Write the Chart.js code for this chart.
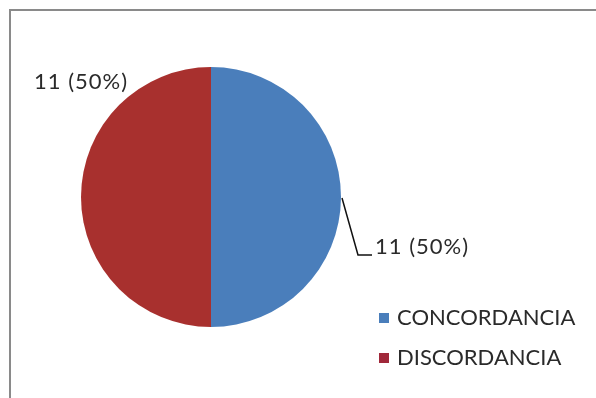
<!DOCTYPE html>
<html>
<head>
<meta charset="utf-8">
<script src="https://cdn.jsdelivr.net/npm/chart.js@4"></script>
<style>
  html, body { margin: 0; padding: 0; background: #fff; }
  #wrap { position: relative; width: 596px; height: 398px; overflow: hidden; }
  #frame { position: absolute; left: 9px; top: 9px; width: 700px; height: 500px;
           border-top: 2px solid #8a8a8a; border-left: 2px solid #8a8a8a; }
  canvas { position: absolute; left: 0; top: 0; }
</style>
</head>
<body>
<div id="wrap">
  <div id="frame"></div>
  <canvas id="chart" width="596" height="398"></canvas>
</div>
<script>
// Categories and counts
const categories = ['CONCORDANCIA', 'DISCORDANCIA'];
const counts = [11, 11];
const sliceColors = ['#4A7EBB', '#A8302E'];
const legendColors = ['#4A7EBB', '#A0283A'];

const FONT = '22px Lato, "Open Sans", sans-serif';

function labelText(i) {
    const total = counts.reduce((a, b) => a + b, 0);
    return counts[i] + ' (' + Math.round(counts[i] / total * 100) + '%)';
}

// Value labels: right one with a leader line, left one above the slice
const sliceLabels = {
    id: 'sliceLabels',
    afterDatasetsDraw(chart) {
        const ctx = chart.ctx;
        const arcs = chart.getDatasetMeta(0).data;
        ctx.save();
        ctx.font = FONT;
        ctx.letterSpacing = '1px';
        ctx.fillStyle = '#2a2a2a';
        ctx.textBaseline = 'middle';

        // first slice (right half)
        const a0 = arcs[0];
        const mid0 = (a0.startAngle + a0.endAngle) / 2;
        const px = a0.x + Math.cos(mid0) * a0.outerRadius;
        const py = a0.y + Math.sin(mid0) * a0.outerRadius;
        ctx.strokeStyle = '#111';
        ctx.lineWidth = 1.5;
        ctx.beginPath();
        ctx.moveTo(px + 1, py + 1);
        ctx.lineTo(px + 17, py + 58);
        ctx.lineTo(px + 31, py + 58);
        ctx.stroke();
        ctx.textAlign = 'left';
        ctx.fillText(labelText(0), px + 34, py + 50);

        // second slice (left half)
        const a1 = arcs[1];
        ctx.textAlign = 'center';
        ctx.fillText(labelText(1), a1.x - a1.outerRadius, a1.y - a1.outerRadius + 15);
        ctx.restore();
    }
};

// Legend in the lower right corner
const cornerLegend = {
    id: 'cornerLegend',
    afterDraw(chart) {
        const ctx = chart.ctx;
        ctx.save();
        ctx.font = FONT;
        ctx.textAlign = 'left';
        ctx.textBaseline = 'middle';
        chart.data.labels.forEach((lbl, i) => {
            const y = 318 + i 
                * 40;
            ctx.fillStyle = legendColors[i];
            ctx.fillRect(379, y - 5, 10, 10);
            ctx.fillStyle = '#2a2a2a';
            ctx.fillText(lbl, 397, y);
        });
        ctx.restore();
    }
};

new Chart(document.getElementById('chart'), {
    type: 'pie',
    data: {
        labels: categories,
        datasets: [{
            data: counts,
            backgroundColor: sliceColors,
            borderWidth: 0
        }]
    },
    options: {
        responsive: false,
        animation: false,
        layout: { padding: { left: 81, right: 255, top: 67, bottom: 71 } },
        plugins: {
            legend: { display: false },
            tooltip: { enabled: false }
        }
    },
    plugins: [sliceLabels, cornerLegend]
});
</script>
</body>
</html>
